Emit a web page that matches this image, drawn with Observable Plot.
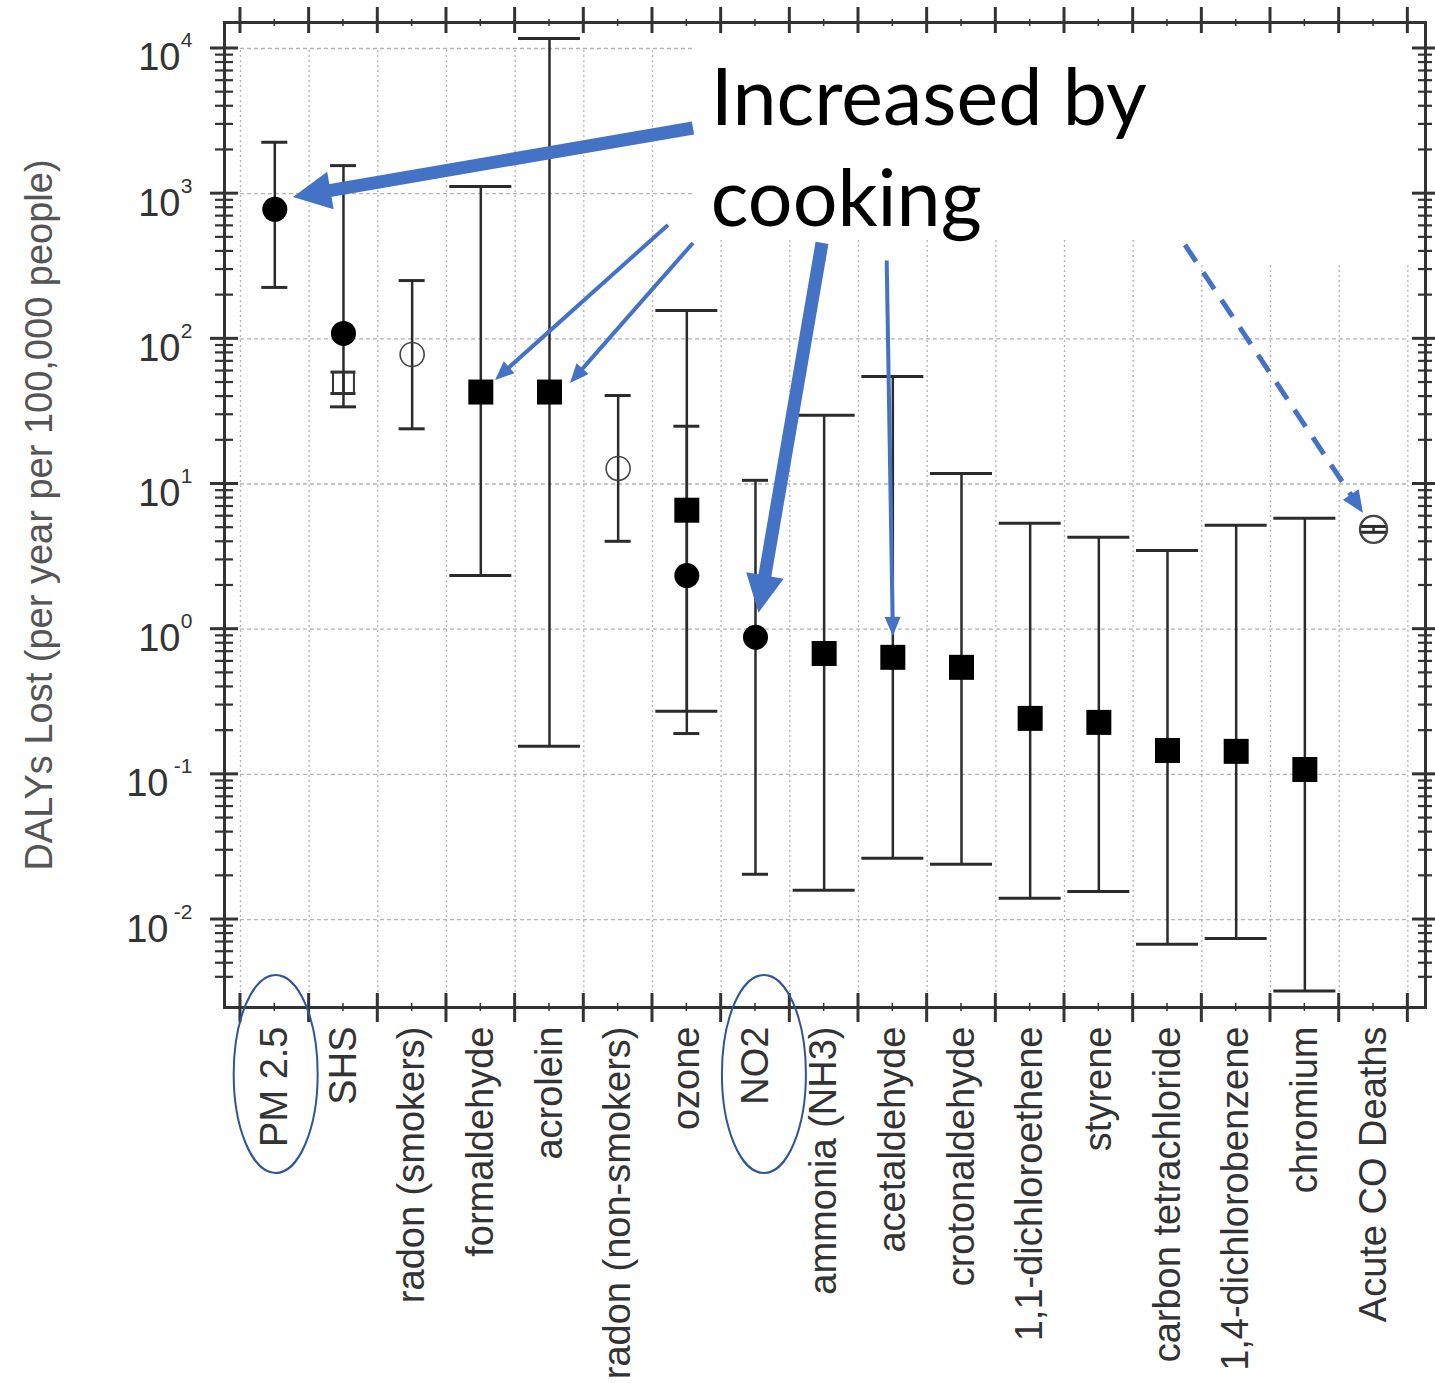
<!DOCTYPE html>
<html>
<head>
<meta charset="utf-8">
<script src="https://cdn.jsdelivr.net/npm/d3@7"></script>
<script src="https://cdn.jsdelivr.net/npm/@observablehq/plot@0.6"></script>
<style>
  html, body { margin: 0; padding: 0; background: #fff; }
  #chart svg { display: block; }
</style>
</head>
<body>
<div id="chart"></div>
<script>
// ---------------- DATA ----------------
const categories = ["PM 2.5", "SHS", "radon (smokers)", "formaldehyde", "acrolein", "radon (non-smokers)", "ozone", "NO2", "ammonia (NH3)", "acetaldehyde", "crotonaldehyde", "1,1-dichloroethene", "styrene", "carbon tetrachloride", "1,4-dichlorobenzene", "chromium", "Acute CO Deaths"];
const centralValues = [780, 109, 78, 43, 43, 12.8, 6.6, 0.88, 0.68, 0.64, 0.546, 0.243, 0.228, 0.146, 0.144, 0.108, 4.87];
const lowerBounds   = [226, 34, 24, 2.34, 0.156, 4.03, 0.272, 0.0205, 0.0159, 0.0264, 0.024, 0.014, 0.0156, 0.00675, 0.0074, 0.00322, 4.65];
const upperBounds   = [2260, 1560, 252, 1120, 11700, 40.7, 157, 10.6, 29.7, 55, 11.8, 5.36, 4.29, 3.49, 5.19, 5.8, 5.1];
const markerKinds   = ["filled circle", "filled circle", "open circle", "filled square", "filled square", "open circle", "filled square", "filled circle", "filled square", "filled square", "filled square", "filled square", "filled square", "filled square", "filled square", "filled square", "open circle CO"];

// second estimates shown for SHS and ozone
const extraCategories = ["SHS", "ozone"];
const extraValues     = [50, 2.34];
const extraLower      = [42, 0.191];
const extraUpper      = [59, 25];
const extraKinds      = ["open square", "filled circle"];

// y tick labels (powers of ten)
const yTickExponents = [-2, -1, 0, 1, 2, 3, 4];

// annotation
const annotationText = "Increased by\ncooking";
const annotationAnchor = {x: 6.35, y: 594};
// arrows in data coordinates (x = category index, y = DALYs)
const arrowStyles = ["thick", "thin", "thin", "thick", "thin", "dashed"];
const arrowFromX = [6.097, 5.733, 6.097, 7.976, 8.918, 13.262];
const arrowFromY = [2812, 604, 454, 454, 344, 440];
const arrowToX   = [0.272, 3.214, 4.306, 7.051, 9.008, 15.854];
const arrowToY   = [942, 51.7, 49.3, 1.285, 0.892, 6.27];
// white panel behind the annotation text (data coordinates)
const panelX1 = [6.126, 12.75];
const panelX2 = [16.535, 16.535];
const panelY1 = [499, 336];
const panelY2 = [11720, 499];
// circled labels
const circledLabelX = [0.02, 7.13];

// ---------------- LAYOUT ----------------
const W = 1435, H = 1383;
const mL = 224, mR = 10, mT = 22, mB = 376;
const xDomain = [-0.7325, 16.757];
const yDomain = [Math.pow(10, -2.606), Math.pow(10, 4.179)];
const step = (W - mL - mR) / (xDomain[1] - xDomain[0]);

const rows = categories.map((c, i) => ({i, cat: c, v: centralValues[i], lo: lowerBounds[i], hi: upperBounds[i], kind: markerKinds[i]}));
const extras = extraCategories.map((c, k) => ({i: categories.indexOf(c), cat: c, v: extraValues[k], lo: extraLower[k], hi: extraUpper[k], kind: extraKinds[k]}));
const all = rows.concat(extras);

const capHalfPx = {"filled square": 31, "filled circle": 13, "open circle": 13, "open square": 12.5, "open circle CO": 13};
const half = d => capHalfPx[d.kind] / step;

const boundaries = d3.range(categories.length + 1).map(k => k - 0.5);
const decades = yTickExponents.map(e => Math.pow(10, e));
const minors = [];
for (let e = -3; e <= 3; e++) for (let k = 2; k <= 9; k++) {
  const v = k * Math.pow(10, e);
  if (v >= 0.004 && v < 1e4) minors.push(v);
}

const INK = "#2b2b2b";
const BLUE = "#4472C4";

// ---------------- CUSTOM RENDER MARKS ----------------
function frameTicks(index, scales, values, dimensions) {
  const x = scales.x, y = scales.y;
  const {width, height, marginLeft, marginRight, marginTop, marginBottom} = dimensions;
  const left = marginLeft, right = width - marginRight, top = marginTop, bottom = height - marginBottom;
  const g = d3.create("svg:g").attr("stroke", "#333").attr("fill", "none");
  const line = (x1, y1, x2, y2, w) => g.append("line").attr("x1", x1).attr("y1", y1).attr("x2", x2).attr("y2", y2).attr("stroke-width", w);
  for (const b of boundaries) {
    const px = x(b);
    line(px, top - 15, px, top + 11, 3);
    line(px, bottom - 14, px, bottom + 15, 3);
  }
  for (let i = 0; i < categories.length; i++) {
    const px = x(i);
    line(px, top - 3, px, top + 4, 1.5);
    line(px, bottom - 4, px, bottom + 4, 1.5);
  }
  for (const d of decades) {
    const py = y(d);
    line(left - 14, py, left + 14, py, 3);
    line(right - 13, py, right + 10, py, 3);
  }
  for (const m of minors) {
    const py = y(m);
    line(left - 9, py, left + 9, py, 2.2);
    line(right - 7, py, right + 7, py, 2.2);
  }
  return g.node();
}

function annotations(index, scales, values, dimensions) {
  const x = scales.x, y = scales.y;
  const {height, marginBottom} = dimensions;
  const bottom = height - marginBottom;
  const g = d3.create("svg:g");
  const spec = {
    thick:  {w: 13, hl: 38, hw: 38, dash: null},
    thin:   {w: 4,  hl: 19, hw: 16, dash: null},
    dashed: {w: 5,  hl: 22, hw: 19, dash: "20,13"}
  };
  for (let k = 0; k < arrowStyles.length; k++) {
    const s = spec[arrowStyles[k]];
    const x1 = x(arrowFromX[k]), y1 = y(arrowFromY[k]);
    const x2 = x(arrowToX[k]), y2 = y(arrowToY[k]);
    const dx = x2 - x1, dy = y2 - y1, len = Math.hypot(dx, dy);
    const ux = dx / len, uy = dy / len, nx = -uy, ny = ux;
    const bx = x2 - ux * s.hl, by = y2 - uy * s.hl;
    const shaft = g.append("line")
      .attr("x1", x1).attr("y1", y1).attr("x2", bx + ux * 1).attr("y2", by + uy * 1)
      .attr("stroke", BLUE).attr("stroke-width", s.w).attr("stroke-linecap", "butt");
    if (s.dash) shaft.attr("stroke-dasharray", s.dash);
    g.append("path")
      .attr("d", `M${x2},${y2}L${bx + nx * s.hw / 2},${by + ny * s.hw / 2}L${bx - nx * s.hw / 2},${by - ny * s.hw / 2}Z`)
      .attr("fill", BLUE);
  }
  for (const cx of circledLabelX) {
    g.append("ellipse")
      .attr("cx", x(cx)).attr("cy", bottom + 67)
      .attr("rx", 42).attr("ry", 99)
      .attr("fill", "none").attr("stroke", "#2F5597").attr("stroke-width", 2);
  }
  return g.node();
}

// ---------------- PLOT ----------------
const plot = Plot.plot({
  width: W,
  height: H,
  marginLeft: mL,
  marginRight: mR,
  marginTop: mT,
  marginBottom: mB,
  x: {type: "linear", domain: xDomain, axis: null},
  y: {type: "log", domain: yDomain, axis: null},
  style: {fontFamily: "'Liberation Sans', Arial, sans-serif", background: "white", overflow: "visible"},
  marks: [
    // grid
    Plot.ruleX(boundaries, {x: d => d, y1: yDomain[0], y2: 1e4, stroke: "#b3b3b3", strokeWidth: 1.3, strokeDasharray: "2,3"}),
    Plot.ruleY(decades, {y: d => d, x1: -0.5, x2: 16.5, stroke: "#b3b3b3", strokeWidth: 1.3, strokeDasharray: "4,3"}),
    // white panel behind annotation
    Plot.rect(panelX1.map((v, k) => k), {x1: k => panelX1[k], x2: k => panelX2[k], y1: k => panelY1[k], y2: k => panelY2[k], fill: "white"}),
    // error bars
    Plot.ruleX(all, {x: "i", y1: "lo", y2: "hi", stroke: INK, strokeWidth: 2.5}),
    Plot.ruleY(all, {y: "hi", x1: d => d.i - half(d), x2: d => d.i + half(d), stroke: INK, strokeWidth: 3}),
    Plot.ruleY(all, {y: "lo", x1: d => d.i - half(d), x2: d => d.i + half(d), stroke: INK, strokeWidth: 3}),
    // markers
    Plot.dot(all.filter(d => d.kind === "filled circle"), {x: "i", y: "v", r: 12.5, fill: "black", stroke: "none"}),
    Plot.dot(all.filter(d => d.kind === "filled square"), {x: "i", y: "v", r: 14.1, symbol: "square", fill: "black", stroke: "none"}),
    Plot.dot(all.filter(d => d.kind === "open circle"), {x: "i", y: "v", r: 12, fill: "none", stroke: "#444", strokeWidth: 1.6}),
    Plot.dot(all.filter(d => d.kind === "open square"), {x: "i", y: "v", r: 11.8, symbol: "square", fill: "none", stroke: "#333", strokeWidth: 2}),
    Plot.dot(all.filter(d => d.kind === "open circle CO"), {x: "i", y: "v", r: 13.5, fill: "none", stroke: "#444", strokeWidth: 2.4}),
    // frame + ticks
    Plot.frame({stroke: "#333", strokeWidth: 3}),
    frameTicks,
    // category labels
    Plot.text(categories, {x: (d, i) => i, text: d => d, frameAnchor: "bottom", rotate: -90, textAnchor: "end", lineAnchor: "middle", dy: 19, fontSize: 38, fill: "#333"}),
    // y tick labels: "10" + exponent
    Plot.text(yTickExponents.filter(e => e >= 0), {y: e => Math.pow(10, e), text: () => "10", frameAnchor: "left", dx: -44, dy: 22, textAnchor: "end", lineAnchor: "bottom", fontSize: 38, fill: "#333"}),
    Plot.text(yTickExponents.filter(e => e < 0), {y: e => Math.pow(10, e), text: () => "10", frameAnchor: "left", dx: -56, dy: 22, textAnchor: "end", lineAnchor: "bottom", fontSize: 38, fill: "#333"}),
    Plot.text(yTickExponents, {y: e => Math.pow(10, e), text: e => String(e), frameAnchor: "left", dx: -32, dy: -1, textAnchor: "end", lineAnchor: "bottom", fontSize: 21, fill: "#333"}),
    // y axis title
    Plot.text(["DALYs Lost (per year per 100,000 people)"], {frameAnchor: "left", dx: -185, rotate: -90, textAnchor: "middle", lineAnchor: "middle", fontSize: 38, fill: "#555"}),
    // annotation
    Plot.text([annotationText], {x: annotationAnchor.x, y: annotationAnchor.y, textAnchor: "start", lineAnchor: "bottom", lineHeight: 1.28, fontSize: 79, fontFamily: "Lato", fill: "black"}),
    annotations
  ]
});
document.getElementById("chart").appendChild(plot);
</script>
</body>
</html>
